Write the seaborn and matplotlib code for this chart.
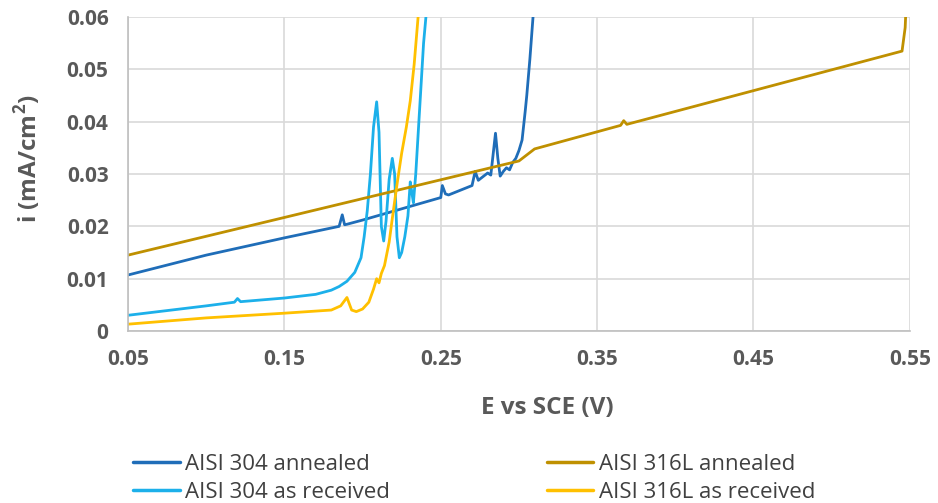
import matplotlib
matplotlib.use("Agg")
import matplotlib.pyplot as plt
import seaborn as sns
import pandas as pd

# ---- data ----
series_names = ["AISI 304 annealed", "AISI 304 as received",
                "AISI 316L annealed", "AISI 316L as received"]

e_304_ann = [0.05, 0.10, 0.15, 0.185, 0.187, 0.1885, 0.19, 0.20, 0.25, 0.251, 0.253,
             0.255, 0.27, 0.272, 0.274, 0.277, 0.28, 0.282, 0.285, 0.2865, 0.288, 0.290,
             0.292, 0.294, 0.296, 0.298, 0.300, 0.302, 0.304, 0.305, 0.307, 0.309, 0.311]
i_304_ann = [0.0107, 0.0145, 0.0178, 0.0200, 0.0222, 0.0203, 0.0204, 0.0212, 0.0255, 0.0278,
             0.0262, 0.0260, 0.0278, 0.0305, 0.0288, 0.0295, 0.0302, 0.0298, 0.0378, 0.0330,
             0.0296, 0.0305, 0.0312, 0.0308, 0.0322, 0.0330, 0.0345, 0.0365, 0.0420, 0.0450,
             0.0520, 0.0600, 0.0680]

e_304_rec = [0.05, 0.10, 0.118, 0.120, 0.122, 0.15, 0.17, 0.18, 0.185, 0.19, 0.195, 0.199,
             0.201, 0.203, 0.205, 0.207, 0.209, 0.2105, 0.212, 0.2135, 0.215, 0.217, 0.219,
             0.2205, 0.222, 0.2235, 0.225, 0.227, 0.229, 0.2305, 0.2315, 0.2325, 0.234,
             0.236, 0.237, 0.238, 0.239, 0.2405, 0.242]
i_304_rec = [0.0030, 0.0048, 0.0055, 0.0062, 0.0056, 0.0063, 0.0070, 0.0078, 0.0085, 0.0095,
             0.0112, 0.0140, 0.0180, 0.0230, 0.0300, 0.0390, 0.0438, 0.0380, 0.0200, 0.0172,
             0.0210, 0.0290, 0.0330, 0.0300, 0.0180, 0.0140, 0.0150, 0.0180, 0.0220, 0.0285,
             0.0265, 0.0245, 0.0300, 0.0400, 0.0450, 0.0500, 0.0550, 0.0600, 0.0680]

e_316_ann = [0.05, 0.30, 0.31, 0.365, 0.367, 0.369, 0.545, 0.547, 0.548]
i_316_ann = [0.0145, 0.0325, 0.0348, 0.0393, 0.0402, 0.0395, 0.0535, 0.0580, 0.0650]

e_316_rec = [0.05, 0.10, 0.15, 0.18, 0.186, 0.190, 0.193, 0.196, 0.200, 0.204, 0.207, 0.209,
             0.2105, 0.212, 0.214, 0.217, 0.219, 0.222, 0.225, 0.228, 0.2305, 0.233, 0.2355,
             0.237]
i_316_rec = [0.0013, 0.0025, 0.0034, 0.0040, 0.0048, 0.0064, 0.0040, 0.0037, 0.0042, 0.0055,
             0.0080, 0.0100, 0.0092, 0.0110, 0.0125, 0.0170, 0.0215, 0.0280, 0.0340, 0.0390,
             0.0440, 0.0510, 0.0600, 0.0680]

x_ticks = [0.05, 0.15, 0.25, 0.35, 0.45, 0.55]
x_tick_labels = ["0.05", "0.15", "0.25", "0.35", "0.45", "0.55"]
y_ticks = [0, 0.01, 0.02, 0.03, 0.04, 0.05, 0.06]
y_tick_labels = ["0", "0.01", "0.02", "0.03", "0.04", "0.05", "0.06"]

colors = {"AISI 304 annealed": "#1F6DB8", "AISI 304 as received": "#1CB0EA",
          "AISI 316L annealed": "#BF9000", "AISI 316L as received": "#FFC000"}

frames = []
for name, e, i in zip(series_names,
                      [e_304_ann, e_304_rec, e_316_ann, e_316_rec],
                      [i_304_ann, i_304_rec, i_316_ann, i_316_rec]):
    frames.append(pd.DataFrame({"E": e, "i": i, "series": name}))
df = pd.concat(frames, ignore_index=True)

# ---- plot ----
sns.set_style("white")
plt.rcParams["font.family"] = ["Open Sans", "DejaVu Sans"]

fig = plt.figure(figsize=(9.38, 5.03), dpi=100)
ax = fig.add_axes([0.1365, 0.342, 0.970 - 0.1365, 0.966 - 0.342])

sns.lineplot(data=df, x="E", y="i", hue="series", hue_order=series_names,
             palette=colors, sort=False, estimator=None, units="series",
             linewidth=2.0, ax=ax, legend=False)

ax.set_xlim(0.05, 0.55)
ax.set_ylim(0, 0.06)
ax.set_xticks(x_ticks)
ax.set_xticklabels(x_tick_labels)
ax.set_yticks(y_ticks)
ax.set_yticklabels(y_tick_labels)
ax.grid(True, color="#D9D9D9", linewidth=1.2)
ax.set_axisbelow(True)
for s in ["top", "right"]:
    ax.spines[s].set_visible(False)
for s in ["left", "bottom"]:
    ax.spines[s].set_color("#BFBFBF")
    ax.spines[s].set_linewidth(1.2)
ax.tick_params(axis="both", length=0, labelsize=15, colors="#595959")
ax.tick_params(axis="x", pad=13)
ax.tick_params(axis="y", pad=14)
for lab in ax.get_xticklabels() + ax.get_yticklabels():
    lab.set_fontweight("bold")

ax.set_xlabel("E vs SCE (V)", fontsize=17.5, fontweight="bold", color="#595959")
ax.xaxis.label.set_va("center")
ax.xaxis.set_label_coords(0.536, -0.245)
ax.set_ylabel("i (mA/cm$^\\mathregular{2}$)", fontsize=17.5, fontweight="bold", color="#595959")
ax.yaxis.label.set_va("center")
ax.yaxis.set_label_coords(-0.128, 0.548)

handles = [plt.Line2D([0], [0], color=colors[n], linewidth=2.5) for n in series_names]
leg = fig.legend(handles, series_names, loc="upper left",
                 bbox_to_anchor=(133 / 938, 1 - 454 / 503), borderaxespad=0, borderpad=0,
                 ncol=2, frameon=False, fontsize=16, handlelength=2.1, handletextpad=0.25,
                 columnspacing=7.05, labelspacing=0.3)
for t in leg.get_texts():
    t.set_color("#404040")

fig.savefig("out.png", dpi=100)
